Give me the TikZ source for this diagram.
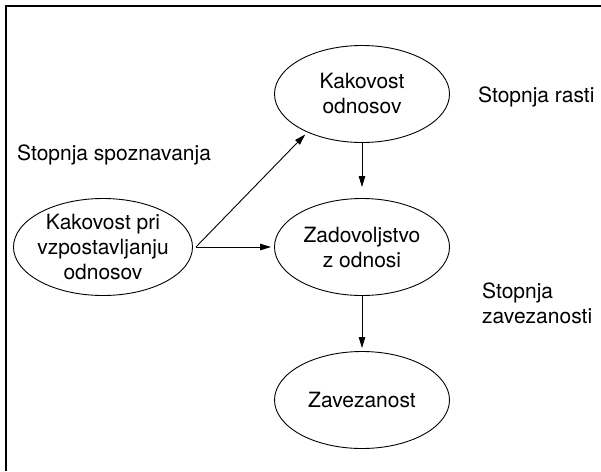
\documentclass[tikz,border=0pt]{standalone}
\usepackage{fontspec}
\setmainfont{TeX Gyre Heros}
\usetikzlibrary{shapes.geometric, arrows.meta}

\begin{document}
\begin{tikzpicture}[x=1pt, y=-1pt,
  oval/.style={draw, ellipse, line width=0.9pt, inner sep=-20pt, minimum width=175pt, minimum height=97pt, align=center, font=\fontsize{21}{25}\selectfont},
  lbl/.style={inner sep=0pt, anchor=west, align=left, font=\fontsize{21}{25}\selectfont},
  arr/.style={-{Triangle[length=11pt,width=6.5pt]}, line width=0.9pt}]
\useasboundingbox (0,0) rectangle (601,471);
\draw[line width=1.3pt] (601,6) -- (6,6) -- (6,471);

\node[oval] (kak) at (362,94) {Kakovost\\odnosov};
\node[oval] (zad) at (362,247) {Zadovoljstvo\\z odnosi};
\node[oval] (zav) at (362,400) {Zavezanost};
\node[oval, minimum width=179pt] (vzp) at (103,247) {Kakovost pri\\vzpostavljanju\\odnosov};

\node[lbl] (rasti) at (478,97) {Stopnja rasti};
\node[lbl] (spoz) at (17,155) {Stopnja spoznavanja};
\node[lbl] (zavez) at (482,303) {Stopnja\\zavezanosti};

\coordinate (fork) at ([xshift=3pt]vzp.east);
\draw[arr, shorten >=3pt] (fork) -- (kak.215);
\draw[arr, shorten >=3pt] (fork) -- (zad.west);
\draw[arr, shorten >=11pt] (kak) -- (zad);
\draw[arr, shorten >=3pt] (zad) -- (zav);
\end{tikzpicture}
\end{document}
